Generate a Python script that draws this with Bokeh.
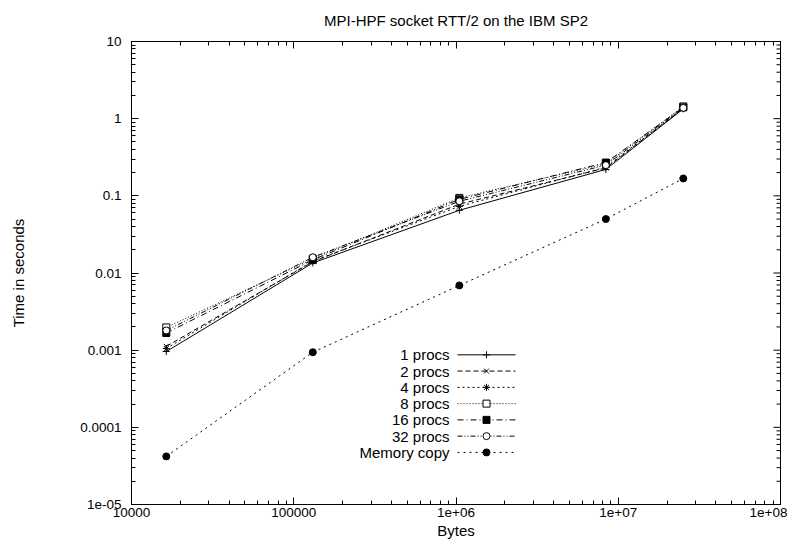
import numpy as np
from bokeh.plotting import figure
from bokeh.models import LogAxis, LogTicker, Range1d, Label
from bokeh.embed import file_html
from bokeh.resources import INLINE

# ---------------- data ----------------
message_bytes = [16384, 131072, 1048576, 8388608, 25165824]
procs_1 = [0.00096, 0.0135, 0.065, 0.22, 1.34]
procs_2 = [0.00112, 0.0140, 0.078, 0.23, 1.36]
procs_4 = [0.00105, 0.0143, 0.073, 0.235, 1.37]
procs_8 = [0.00197, 0.0153, 0.094, 0.26, 1.44]
procs_16 = [0.00167, 0.0148, 0.090, 0.27, 1.40]
procs_32 = [0.00180, 0.0160, 0.085, 0.25, 1.38]
memory_copy = [4.2e-5, 9.4e-4, 6.9e-3, 0.050, 0.168]

series_labels = ["1 procs", "2 procs", "4 procs", "8 procs", "16 procs", "32 procs", "Memory copy"]
series_values = [procs_1, procs_2, procs_4, procs_8, procs_16, procs_32, memory_copy]

x_ticks = [1e4, 1e5, 1e6, 1e7, 1e8]
x_tick_labels = ["10000", "100000", "1e+06", "1e+07", "1e+08"]
y_ticks = [1e-5, 1e-4, 1e-3, 1e-2, 1e-1, 1, 10]
y_tick_labels = ["1e-05", "0.0001", "0.001", "0.01", "0.1", "1", "10"]
minor_mantissas = [1, 2, 3, 4, 5, 6, 7, 8, 9]

# ---------------- styles ----------------
FONT = "Liberation Sans"
styles = [
    dict(dash="solid", marker="cross", fill=None),
    dict(dash="5 3", marker="x", fill=None),
    dict(dash="2 3", marker="asterisk", fill=None),
    dict(dash="1 2", marker="square", fill="white"),
    dict(dash="6 3 1 3", marker="square", fill="black"),
    dict(dash="5 2 1 2 1 2", marker="circle", fill="white"),
    dict(dash="2 4", marker="circle", fill="black"),
]

W, H = 787, 541
ML, MR, MT, MB = 131, 7, 41, 30

p = figure(width=W, height=H, x_axis_type="log", y_axis_type="log",
           x_range=Range1d(x_ticks[0], x_ticks[-1]), y_range=Range1d(y_ticks[0], y_ticks[-1]),
           output_backend="svg", toolbar_location=None,
           min_border_left=ML, min_border_right=MR, min_border_top=MT, min_border_bottom=MB)

p.title.text = "MPI-HPF socket RTT/2 on the IBM SP2"
p.title.align = "center"
p.title.vertical_align = "top"
p.title.text_font = FONT
p.title.text_font_size = "15px"
p.title.text_font_style = "normal"
p.title.text_color = "black"
p.title.text_line_height = 1.0
p.title.standoff = 21

p.xgrid.visible = False
p.ygrid.visible = False
p.outline_line_color = "black"
p.outline_line_width = 1
p.background_fill_color = "white"
p.border_fill_color = "white"

def style_axis(ax, ticks, labels, show_labels=True):
    ax.ticker = LogTicker(desired_num_ticks=len(ticks), mantissas=[1], num_minor_ticks=10)
    if show_labels:
        ax.major_label_overrides = {t: l for t, l in zip(ticks, labels)}
    ax.axis_line_color = None
    ax.major_tick_in = 7
    ax.major_tick_out = 0
    ax.minor_tick_in = 4
    ax.minor_tick_out = 0
    ax.major_tick_line_color = "black"
    ax.minor_tick_line_color = "black"
    ax.major_label_text_font = FONT
    ax.major_label_text_font_size = "13.5px" if show_labels else "1px"
    ax.major_label_text_color = "black"
    if not show_labels:
        ax.major_label_text_alpha = 0
        ax.major_label_standoff = 0

xa = p.xaxis[0]
ya = p.yaxis[0]
style_axis(xa, x_ticks, x_tick_labels)
style_axis(ya, y_ticks, y_tick_labels)
xa.major_label_standoff = 3
ya.major_label_standoff = 10
xa.axis_label = "Bytes"
ya.axis_label = "Time in seconds"
for ax, so in ((xa, 2), (ya, 50)):
    ax.axis_label_text_font = FONT
    ax.axis_label_text_font_size = "15px"
    ax.axis_label_text_font_style = "normal"
    ax.axis_label_text_color = "black"
    ax.axis_label_standoff = so

top_ax = LogAxis()
style_axis(top_ax, x_ticks, x_tick_labels, show_labels=False)
p.add_layout(top_ax, "above")

# frame geometry helpers (pixel offsets inside the plot frame -> data coords)
fw, fh = W - ML - MR, H - MT - 36
def fx(px):
    lo, hi = np.log10(x_ticks[0]), np.log10(x_ticks[-1])
    return 10 ** (lo + (hi - lo) * px / fw)
def fy(py):
    lo, hi = np.log10(y_ticks[0]), np.log10(y_ticks[-1])
    return 10 ** (hi - (hi - lo) * py / fh)

# mirrored ticks on the right border (inward, like gnuplot)
rt_y, rt_x0, rt_x1 = [], [], []
for t in y_ticks[:-1]:
    for m in minor_mantissas:
        rt_y.append(t * m)
        rt_x0.append(x_ticks[-1])
        rt_x1.append(fx(fw - (7 if m == 1 else 4)))
rt_y.append(y_ticks[-1]); rt_x0.append(x_ticks[-1]); rt_x1.append(fx(fw - 7))
p.segment(x0=rt_x0, y0=rt_y, x1=rt_x1, y1=rt_y, line_color="black", line_width=1)

# ---------------- series ----------------
for vals, st in zip(series_values, styles):
    p.line(message_bytes, vals, line_color="black", line_width=1, line_dash=st["dash"])
    p.scatter(message_bytes, vals, marker=st["marker"], size=7, line_color="black",
              fill_color=st["fill"] if st["fill"] else None, line_width=1)

# ---------------- legend (gnuplot style: text then sample) ----------------
leg_text_right = 318
leg_line_start, leg_line_end, leg_marker = 326, 384, 355
leg_top, leg_step = 314, 16.3
for i, (lab, st) in enumerate(zip(series_labels, styles)):
    yy = fy(leg_top + i * leg_step)
    p.add_layout(Label(x=fx(leg_text_right), y=yy, text=lab, text_align="right",
                       text_baseline="middle", text_font=FONT, text_font_size="15px",
                       text_color="black"))
    p.line([fx(leg_line_start), fx(leg_line_end)], [yy, yy], line_color="black",
           line_width=1, line_dash=st["dash"])
    p.scatter([fx(leg_marker)], [yy], marker=st["marker"], size=7, line_color="black",
              fill_color=st["fill"] if st["fill"] else None, line_width=1)

open("out.html", "w").write(file_html(p, INLINE))
